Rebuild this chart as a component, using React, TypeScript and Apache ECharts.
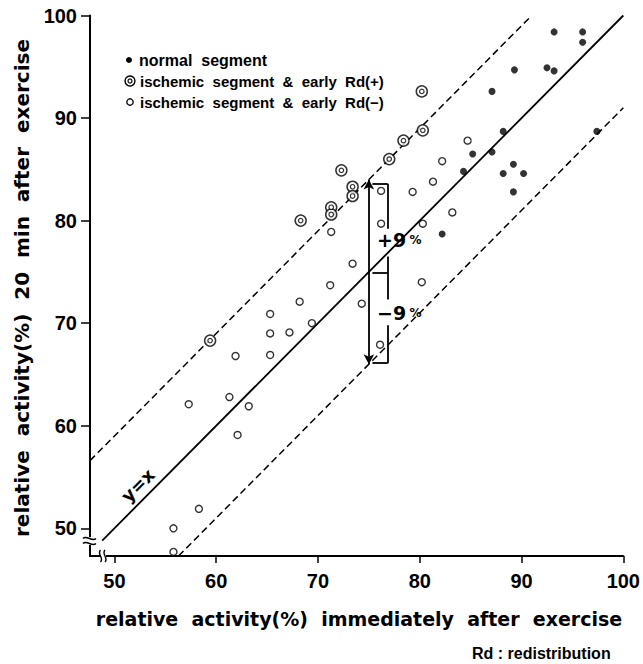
import React, { useEffect, useRef } from "react";
import * as echarts from "echarts";

const xTickValues = [50, 60, 70, 80, 90, 100];
const yTickValues = [50, 60, 70, 80, 90, 100];

const normalSegment = [
  [93.2, 98.4], [96.0, 98.4], [96.0, 97.4], [89.3, 94.7], [92.5, 94.9], [93.2, 94.6],
  [87.1, 92.6], [88.2, 88.7], [97.4, 88.7], [85.2, 86.5], [87.1, 86.7], [84.3, 84.8],
  [88.2, 84.6], [89.2, 85.5], [90.2, 84.6], [89.2, 82.8], [82.2, 78.7],
];

const ischemicRdPositive = [
  [80.2, 92.6], [80.3, 88.8], [78.4, 87.8], [77.0, 86.0], [72.3, 84.9], [73.4, 83.3],
  [73.4, 82.4], [71.3, 81.3], [71.3, 80.6], [68.3, 80.0], [59.4, 68.3],
];

const ischemicRdNegative = [
  [84.7, 87.8], [82.2, 85.8], [81.3, 83.8], [79.3, 82.8], [76.2, 82.9], [76.2, 79.7],
  [83.2, 80.8], [80.3, 79.7], [71.3, 78.9], [73.4, 75.8], [71.2, 73.7], [68.2, 72.1],
  [65.3, 70.9], [80.2, 74.0], [74.3, 71.9], [69.4, 70.0], [76.1, 67.9], [65.3, 69.0],
  [67.2, 69.1], [61.9, 66.8], [65.3, 66.9], [57.3, 62.1], [61.3, 62.8], [63.2, 61.9],
  [62.1, 59.1], [58.3, 51.9], [55.8, 50.0], [55.8, 47.7],
];

const identityLine = [[48.8, 48.8], [100, 100]];
const upperLimitLine = [[47.6, 56.6], [91.0, 100]];
const lowerLimitLine = [[56.3, 47.3], [100, 91.0]];

const arrowSpan = [[75, 84], [75, 66]];
const bracketSegments = [
  [[75.35, 83.6], [76.85, 83.6]],
  [[76.85, 83.6], [76.85, 79.2]],
  [[76.85, 76.5], [76.85, 72.3]],
  [[75.35, 74.9], [76.85, 74.9]],
  [[76.85, 69.8], [76.85, 66.1]],
  [[75.35, 66.1], [76.85, 66.1]],
];
const plusLabelAt = [75.8, 78.1];
const minusLabelAt = [75.8, 71.0];
const identityLabelAt = [52.3, 54.2];

const X_MIN = 47.6;
const X_MAX = 100;
const Y_MIN = 47.3;
const Y_MAX = 100;

const tickFont = "'Liberation Sans', Arial, sans-serif";
const titleFont = "'DejaVu Sans', sans-serif";

export default function App() {
  const ref = useRef<HTMLDivElement>(null);

  useEffect(() => {
    if (!ref.current) return;
    const chart = echarts.init(ref.current, undefined, { renderer: "svg" });

    const markLineData: any[] = [
      [
        { coord: arrowSpan[0], symbol: "arrow" },
        { coord: arrowSpan[1], symbol: "arrow" },
      ],
      ...bracketSegments.map((s) => [
        { coord: s[0], symbol: "none" },
        { coord: s[1], symbol: "none" },
      ]),
    ];

    const baseGraphic: any[] = [
      // legend
      { type: "circle", shape: { cx: 129, cy: 60, r: 3 }, style: { fill: "#000" } },
      { type: "circle", shape: { cx: 130, cy: 81, r: 5 }, style: { fill: "#fff", stroke: "#000", lineWidth: 1.4 } },
      { type: "circle", shape: { cx: 130, cy: 81, r: 2 }, style: { fill: "#fff", stroke: "#000", lineWidth: 1.2 } },
      { type: "circle", shape: { cx: 130, cy: 102, r: 3.2 }, style: { fill: "#fff", stroke: "#000", lineWidth: 1.3 } },
      {
        type: "text", x: 139, y: 60,
        style: { text: "normal  segment", font: `bold 16px ${tickFont}`, fill: "#000", textAlign: "left", textVerticalAlign: "middle" },
      },
      {
        type: "text", x: 140, y: 81,
        style: { text: "ischemic  segment  &  early  Rd(+)", font: `bold 15px ${tickFont}`, fill: "#000", textAlign: "left", textVerticalAlign: "middle" },
      },
      {
        type: "text", x: 140, y: 102,
        style: { text: "ischemic  segment  &  early  Rd(\u2212)", font: `bold 15px ${tickFont}`, fill: "#000", textAlign: "left", textVerticalAlign: "middle" },
      },
      // axis titles
      {
        type: "text", x: 359, y: 619,
        style: { text: "relative  activity(%)  immediately  after  exercise", font: `bold 19px ${titleFont}`, fill: "#000", textAlign: "center", textVerticalAlign: "middle" },
      },
      {
        type: "text", x: 22, y: 288, rotation: Math.PI / 2,
        style: { text: "relative  activity(%)  20  min  after  exercise", font: `bold 20px ${titleFont}`, fill: "#000", textAlign: "center", textVerticalAlign: "middle" },
      },
      {
        type: "text", x: 472, y: 653,
        style: { text: "Rd : redistribution", font: `bold 16px ${tickFont}`, fill: "#000", textAlign: "left", textVerticalAlign: "middle" },
      },
      // axis break marks on y axis
      { type: "rect", shape: { x: 84, y: 537, width: 12, height: 8 }, style: { fill: "#fff" }, z: 50 },
      { type: "bezierCurve", shape: { x1: 83, y1: 538.5, cpx1: 87, cpy1: 534.5, cpx2: 92, cpy2: 542.5, x2: 96, y2: 538.5 }, style: { stroke: "#000", lineWidth: 1.4, fill: "none" }, z: 51 },
      { type: "bezierCurve", shape: { x1: 83, y1: 543.5, cpx1: 87, cpy1: 539.5, cpx2: 92, cpy2: 547.5, x2: 96, y2: 543.5 }, style: { stroke: "#000", lineWidth: 1.4, fill: "none" }, z: 51 },
      // axis break marks on x axis
      { type: "rect", shape: { x: 100, y: 552, width: 6, height: 8 }, style: { fill: "#fff" }, z: 50 },
      { type: "bezierCurve", shape: { x1: 100.5, y1: 550, cpx1: 96.5, cpy1: 554, cpx2: 104.5, cpy2: 558, x2: 100.5, y2: 562 }, style: { stroke: "#000", lineWidth: 1.4, fill: "none" }, z: 51 },
      { type: "bezierCurve", shape: { x1: 105, y1: 550, cpx1: 101, cpy1: 554, cpx2: 109, cpy2: 558, x2: 105, y2: 562 }, style: { stroke: "#000", lineWidth: 1.4, fill: "none" }, z: 51 },
    ];

    const axisCommon = {
      type: "value" as const,
      splitLine: { show: false },
      axisLine: { show: true, onZero: false, lineStyle: { color: "#000", width: 2 } },
    };

    chart.setOption({
      animation: false,
      grid: { left: 90, right: 18, top: 15.5, bottom: 108, containLabel: false },
      xAxis: {
        ...axisCommon,
        min: X_MIN,
        max: X_MAX,
        axisTick: { show: true, customValues: xTickValues, length: 7, lineStyle: { color: "#000", width: 1.5 } },
        axisLabel: { customValues: xTickValues, margin: 15, fontSize: 20, fontWeight: "bold", color: "#000", fontFamily: tickFont },
      },
      yAxis: {
        ...axisCommon,
        min: Y_MIN,
        max: Y_MAX,
        axisTick: { show: true, customValues: yTickValues, length: 9, lineStyle: { color: "#000", width: 1.5 } },
        axisLabel: { customValues: yTickValues, margin: 13, fontSize: 20, fontWeight: "bold", color: "#000", fontFamily: tickFont },
      },
      series: [
        {
          type: "line", data: identityLine, showSymbol: false, symbol: "none", silent: true,
          lineStyle: { color: "#000", width: 1.8 }, z: 2,
          markLine: {
            silent: true, animation: false, symbolSize: [8, 10],
            label: { show: false },
            lineStyle: { color: "#000", width: 1.8, type: "solid" },
            emphasis: { disabled: true },
            data: markLineData,
          },
        },
        {
          type: "line", data: upperLimitLine, showSymbol: false, symbol: "none", silent: true,
          lineStyle: { color: "#000", width: 1.5, type: [7, 4] }, z: 2,
        },
        {
          type: "line", data: lowerLimitLine, showSymbol: false, symbol: "none", silent: true,
          lineStyle: { color: "#000", width: 1.5, type: [7, 4] }, z: 2,
        },
        {
          type: "scatter", data: normalSegment, symbol: "circle", symbolSize: 7, clip: false,
          itemStyle: { color: "#000" }, z: 5,
        },
        {
          type: "scatter", data: ischemicRdPositive, symbol: "circle", symbolSize: 11, clip: false,
          itemStyle: { color: "#fff", borderColor: "#000", borderWidth: 1.5 }, z: 5,
        },
        {
          type: "scatter", data: ischemicRdPositive, symbol: "circle", symbolSize: 4.5, clip: false,
          itemStyle: { color: "#fff", borderColor: "#000", borderWidth: 1.2 }, z: 6,
        },
        {
          type: "scatter", data: ischemicRdNegative, symbol: "circle", symbolSize: 7, clip: false,
          itemStyle: { color: "#fff", borderColor: "#000", borderWidth: 1.4 }, z: 5,
        },
      ],
      graphic: baseGraphic,
    });

    const p = chart.convertToPixel({ gridIndex: 0 }, plusLabelAt) as number[];
    const m = chart.convertToPixel({ gridIndex: 0 }, minusLabelAt) as number[];
    const yx = chart.convertToPixel({ gridIndex: 0 }, identityLabelAt) as number[];
    const rich = {
      a: { font: `bold 19px ${titleFont}`, fill: "#000" },
      b: { font: `bold 12px ${titleFont}`, fill: "#000" },
    };
    chart.setOption({
      graphic: [
        ...baseGraphic,
        {
          type: "text", x: p[0], y: p[1],
          style: { text: "{a|+9} {b|%}", rich, textAlign: "left", textVerticalAlign: "middle" },
          z: 60,
        },
        {
          type: "text", x: m[0], y: m[1],
          style: { text: "{a|\u22129} {b|%}", rich, textAlign: "left", textVerticalAlign: "middle" },
          z: 60,
        },
        {
          type: "text", x: yx[0], y: yx[1], rotation: Math.PI / 4,
          style: { text: "y=x", font: `bold 18px ${titleFont}`, fill: "#000", textAlign: "center", textVerticalAlign: "middle" },
          z: 60,
        },
      ],
    });

    return () => chart.dispose();
  }, []);

  return (
    <div
      ref={ref}
      style={{ position: "fixed", left: 0, top: 0, width: 643, height: 664, background: "#fff" }}
    />
  );
}
